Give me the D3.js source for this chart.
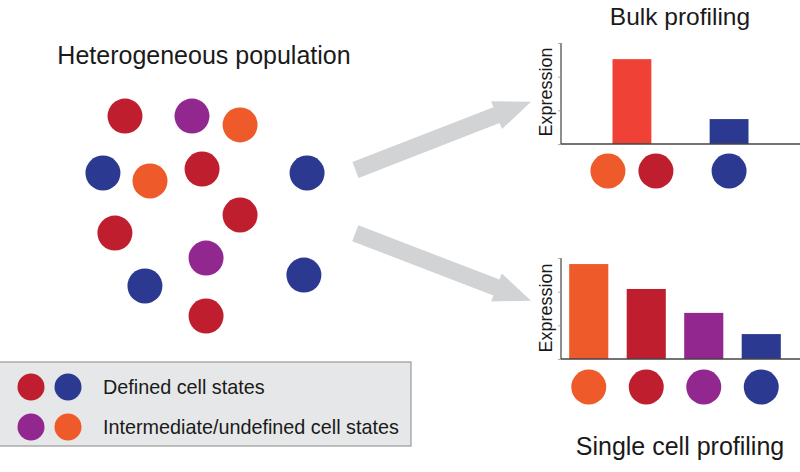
<!DOCTYPE html>
<html>
<head>
<meta charset="utf-8">
<script src="https://cdn.jsdelivr.net/npm/d3@7"></script>
<style>
html,body{margin:0;padding:0;background:#fff;}
svg{display:block;font-family:"Liberation Sans",Arial,Helvetica,sans-serif;}
</style>
</head>
<body>
<svg id="chart" width="800" height="472"></svg>
<script>
// ---- data ----
const stateNames = ["red", "blue", "purple", "orange"];
const stateColors = ["#BE1E2D", "#2B3990", "#92278F", "#EF5A2A"];

// heterogeneous population (abstract 0-100 units)
const popX = [11.9, 43.8, 66.7, 1.4, 23.8, 48.6, 98.6, 66.7, 7.1, 50.5, 21.4, 97.1, 50.5];
const popY = [2.9, 2.9, 7.1, 30, 33.8, 28.1, 30, 50, 58.6, 70.5, 83.8, 78.6, 98.1];
const popState = ["red", "purple", "orange", "blue", "orange", "red", "blue", "red", "red", "purple", "blue", "blue", "red"];

// bulk profiling
const bulkGroups = ["orange+red", "blue"];
const bulkValues = [2.52, 0.74];
const bulkBarColors = ["#EF4136", "#2B3990"];
const bulkMembers = [["orange", "red"], ["blue"]];

// single cell profiling
const singleGroups = ["orange", "red", "purple", "blue"];
const singleValues = [2.82, 2.08, 1.37, 0.74];

const yTicks = [0, 1, 2, 3];

const legendRows = ["Defined cell states", "Intermediate/undefined cell states"];
const legendStates = [["red", "blue"], ["purple", "orange"]];

const titles = ["Heterogeneous population", "Bulk profiling", "Single cell profiling"];
const axisLabel = "Expression";

// ---- drawing ----
const color = d3.scaleOrdinal().domain(stateNames).range(stateColors);
const svg = d3.select("#chart");
const textColor = "#1a1a1a";
const R = 17.5;

// Titles
svg.append("text").attr("x", 204).attr("y", 64).attr("text-anchor", "middle")
  .attr("font-size", 25).attr("fill", textColor).text(titles[0]);
svg.append("text").attr("x", 680).attr("y", 25).attr("text-anchor", "middle")
  .attr("font-size", 24.5).attr("fill", textColor).text(titles[1]);
svg.append("text").attr("x", 680).attr("y", 455).attr("text-anchor", "middle")
  .attr("font-size", 25).attr("fill", textColor).text(titles[2]);

// Population scatter
const xPop = d3.scaleLinear().domain([0, 100]).range([100, 310]);
const yPop = d3.scaleLinear().domain([0, 100]).range([110, 320]);
svg.append("g").selectAll("circle").data(popX).join("circle")
  .attr("cx", (d) => xPop(d))
  .attr("cy", (d, i) => yPop(popY[i]))
  .attr("r", R)
  .attr("fill", (d, i) => color(popState[i]));

// Arrows
function arrow(tx, ty, px, py, shaftW, headW, headL) {
  const dx = px - tx, dy = py - ty, L = Math.hypot(dx, dy);
  const ux = dx / L, uy = dy / L, nx = -uy, ny = ux;
  const bx = px - ux * headL, by = py - uy * headL;
  const pts = [
    [tx + nx * shaftW / 2, ty + ny * shaftW / 2],
    [bx + nx * shaftW / 2, by + ny * shaftW / 2],
    [bx + nx * headW / 2, by + ny * headW / 2],
    [px, py],
    [bx - nx * headW / 2, by - ny * headW / 2],
    [bx - nx * shaftW / 2, by - ny * shaftW / 2],
    [tx - nx * shaftW / 2, ty - ny * shaftW / 2]
  ];
  svg.append("polygon").attr("points", pts.map(p => p.join(",")).join(" "))
    .attr("fill", "#D1D3D4");
}
arrow(355.5, 170, 531, 101.7, 17, 30, 37);
arrow(355.3, 233.3, 531, 300.7, 17, 30, 37);

// Bar chart helper
function axes(g, y, x0, x1) {
  const yAxis = d3.axisLeft(y).tickValues(yTicks).tickSize(3).tickFormat("");
  const ga = g.append("g").attr("transform", `translate(${x0},0)`).call(yAxis);
  ga.select(".domain").attr("stroke", "#444").attr("stroke-width", 1.2)
    .attr("d", `M0,${y(3)}V${y(0)}`);
  ga.selectAll(".tick line").attr("stroke", "#999").attr("stroke-width", 0.8);
  g.append("line").attr("x1", x0).attr("x2", x1).attr("y1", y(0)).attr("y2", y(0))
    .attr("stroke", "#444").attr("stroke-width", 1.4);
}

// Bulk
const gBulk = svg.append("g");
const yBulk = d3.scaleLinear().domain([0, 3]).range([144, 43]);
const xBulk = d3.scaleBand().domain(bulkGroups).range([561, 800]).paddingInner(0.6).paddingOuter(0.53);
gBulk.selectAll("rect").data(bulkValues).join("rect")
  .attr("x", (d, i) => xBulk(bulkGroups[i]))
  .attr("width", xBulk.bandwidth())
  .attr("y", (d) => yBulk(d))
  .attr("height", (d) => yBulk(0) - yBulk(d))
  .attr("fill", (d, i) => bulkBarColors[i]);
axes(gBulk, yBulk, 561, 800);
bulkGroups.forEach((g, i) => {
  const c = xBulk(g) + xBulk.bandwidth() / 2;
  const m = bulkMembers[i];
  m.forEach((s, j) => {
    gBulk.append("circle")
      .attr("cx", c + (j - (m.length - 1) / 2) * 48)
      .attr("cy", 171).attr("r", R).attr("fill", color(s));
  });
});
gBulk.append("text").attr("transform", "translate(552,92) rotate(-90)")
  .attr("text-anchor", "middle").attr("font-size", 18).attr("fill", textColor).text(axisLabel);

// Single cell
const gSingle = svg.append("g");
const ySingle = d3.scaleLinear().domain([0, 3]).range([359, 258]);
const xSingle = d3.scaleBand().domain(singleGroups).range([560, 790]).paddingInner(0.32).paddingOuter(0.16);
gSingle.selectAll("rect").data(singleValues).join("rect")
  .attr("x", (d, i) => xSingle(singleGroups[i]))
  .attr("width", xSingle.bandwidth())
  .attr("y", (d) => ySingle(d))
  .attr("height", (d) => ySingle(0) - ySingle(d))
  .attr("fill", (d, i) => color(singleGroups[i]));
axes(gSingle, ySingle, 561, 800);
gSingle.selectAll("circle.cell").data(singleGroups).join("circle")
  .attr("class", "cell")
  .attr("cx", (d) => xSingle(d) + xSingle.bandwidth() / 2)
  .attr("cy", 387).attr("r", R).attr("fill", (d) => color(d));
gSingle.append("text").attr("transform", "translate(552,308) rotate(-90)")
  .attr("text-anchor", "middle").attr("font-size", 18).attr("fill", textColor).text(axisLabel);

// Legend
const gLeg = svg.append("g");
gLeg.append("rect").attr("x", -1).attr("y", 362).attr("width", 412).attr("height", 84)
  .attr("fill", "#E6E7E8").attr("stroke", "#9a9a9a").attr("stroke-width", 1.2);
legendRows.forEach((label, i) => {
  const cy = 387 + i * 40;
  legendStates[i].forEach((s, j) => {
    gLeg.append("circle").attr("cx", 31 + j * 37).attr("cy", cy).attr("r", 13.5).attr("fill", color(s));
  });
  gLeg.append("text").attr("x", 103).attr("y", cy + 7).attr("font-size", 19.8)
    .attr("fill", textColor).text(label);
});
</script>
</body>
</html>
